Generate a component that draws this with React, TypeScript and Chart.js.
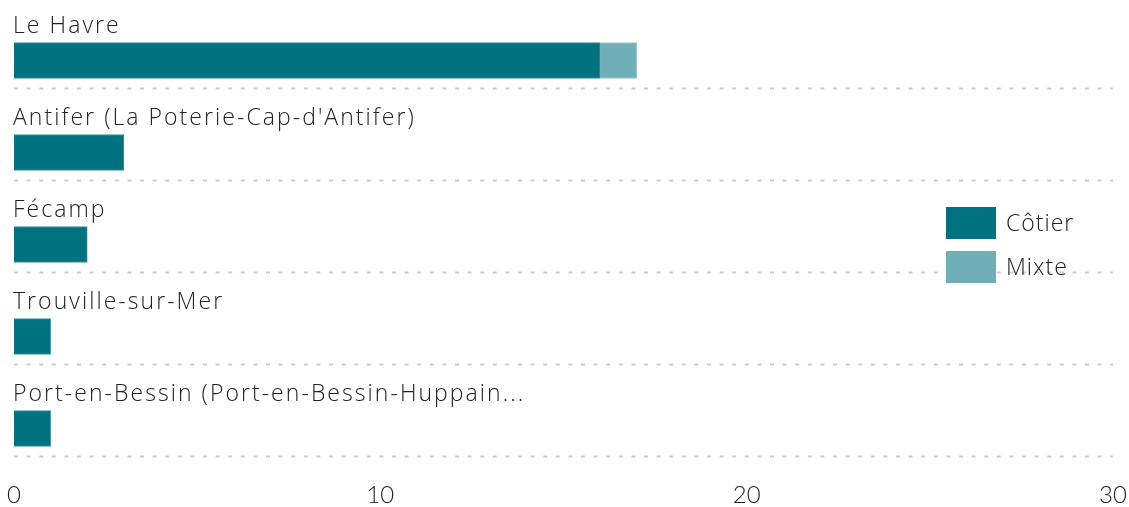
import React, { useEffect, useRef } from "react";
import { Chart, registerables } from "chart.js";

Chart.register(...registerables);

const categories = [
  "Le Havre",
  "Antifer (La Poterie-Cap-d'Antifer)",
  "Fécamp",
  "Trouville-sur-Mer",
  "Port-en-Bessin (Port-en-Bessin-Huppain...",
];
const seriesNames = ["Côtier", "Mixte"];
const cotierValues = [16, 3, 2, 1, 1];
const mixteValues = [1, 0, 0, 0, 0];
const xTicks = [0, 10, 20, 30];

const FONT = "'Open Sans', 'Noto Sans', sans-serif";
const TICK_FONT = "Lato, sans-serif";
const TEXT = "#222";

const overlayPlugin = {
  id: "overlay",
  beforeDatasetsDraw(chart: any) {
    const { ctx, chartArea, scales } = chart;
    const y = scales.y;
    ctx.save();
    ctx.strokeStyle = "#cccccc";
    ctx.lineWidth = 2;
    ctx.setLineDash([4, 8.6]);
    chart.data.labels.forEach((_: any, i: number) => {
      const py = Math.round(y.getPixelForValue(i) + 27.5) + 0.5;
      ctx.beginPath();
      ctx.moveTo(chartArea.left, py);
      ctx.lineTo(chartArea.right, py);
      ctx.stroke();
    });
    ctx.restore();
  },
  afterDatasetsDraw(chart: any) {
    const { ctx, chartArea, scales } = chart;
    const y = scales.y;
    ctx.save();
    ctx.fillStyle = TEXT;
    ctx.font = `300 23px ${FONT}`;
    (ctx as any).letterSpacing = "2.05px";
    ctx.textAlign = "left";
    ctx.textBaseline = "alphabetic";
    chart.data.labels.forEach((lab: string, i: number) => {
      const py = y.getPixelForValue(i) - 27.5;
      ctx.fillText(lab, chartArea.left - 1, py);
    });
    // legend
    (ctx as any).letterSpacing = "1px";
    const lx = 946;
    const ly = 207;
    chart.data.datasets.forEach((ds: any, i: number) => {
      const by = ly + i * 44;
      ctx.fillStyle = ds.backgroundColor;
      ctx.fillRect(lx, by, 50, 32);
      ctx.fillStyle = TEXT;
      ctx.textBaseline = "middle";
      ctx.fillText(ds.label, lx + 60, by + 17);
    });
    ctx.restore();
  },
};

export default function App() {
  const ref = useRef<HTMLCanvasElement>(null);
  useEffect(() => {
    if (!ref.current) return;
    const chart = new Chart(ref.current, {
      type: "bar",
      data: {
        labels: categories,
        datasets: [
          {
            label: seriesNames[0],
            data: cotierValues,
            backgroundColor: "#00717E",
            borderColor: "#3d939d",
            borderWidth: 1,
            barThickness: 36,
          },
          {
            label: seriesNames[1],
            data: mixteValues,
            backgroundColor: "#70AFB7",
            borderColor: "#9fcad0",
            borderWidth: 1,
            barThickness: 36,
          },
        ],
      },
      options: {
        indexAxis: "y",
        animation: false,
        responsive: true,
        maintainAspectRatio: false,
        layout: { padding: { left: 14, right: 16, top: 14.5, bottom: 0 } },
        plugins: {
          legend: { display: false },
          tooltip: { enabled: false },
        },
        scales: {
          y: {
            type: "category",
            stacked: true,
            display: false,
            offset: true,
          },
          x: {
            type: "linear",
            stacked: true,
            min: 0,
            max: 30,
            afterBuildTicks: (s: any) => {
              s.ticks = xTicks.map((v) => ({ value: v }));
            },
            afterFit: (s: any) => {
              s.height = 32.5;
              s.paddingRight = 0;
              s.paddingLeft = 0;
            },
            grid: { display: false, drawTicks: false },
            border: { display: false },
            ticks: {
              padding: 6,
              color: TEXT,
              font: { family: TICK_FONT, size: 24, weight: "300" as any },
            },
          },
        },
      },
      plugins: [overlayPlugin],
    });
    return () => chart.destroy();
  }, []);
  return (
    <div style={{ position: "absolute", left: 0, top: 0, width: 1129, height: 507 }}>
      <canvas ref={ref} />
    </div>
  );
}
